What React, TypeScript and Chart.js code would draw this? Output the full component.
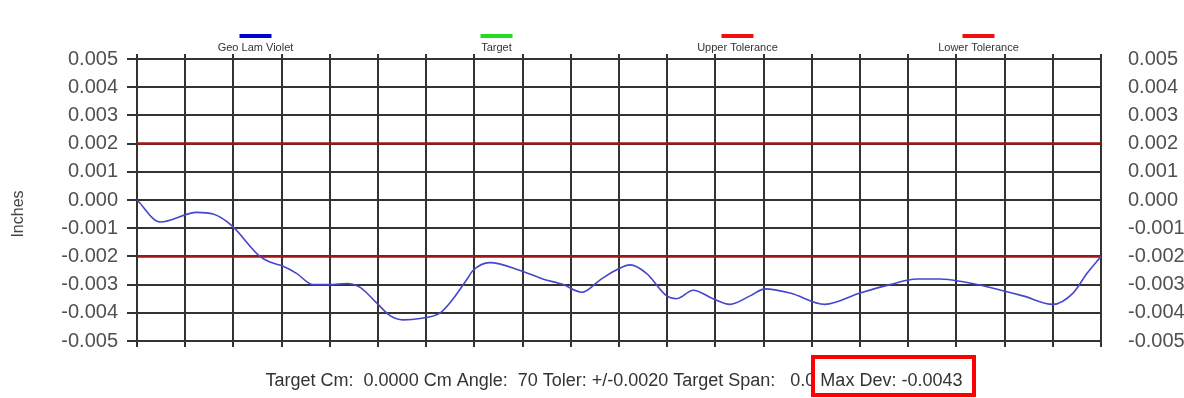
import React, { useEffect, useRef } from "react";
import { Chart, registerables } from "chart.js";

Chart.register(...registerables);

// Position along the 20-division grid, and measured deviation (inches)
const positions = [0, 0.48, 1.24, 1.58, 1.96, 2.55, 2.76, 3.03, 3.31, 3.65, 4.0, 4.35, 4.63, 4.97, 5.25, 5.52, 5.87, 6.29, 6.56, 6.85, 6.97, 7.32, 7.95, 8.42, 8.84, 9.23, 9.61, 9.98, 10.23, 10.57, 10.99, 11.2, 11.54, 11.95, 12.3, 12.72, 13.03, 13.55, 14.27, 15.0, 15.62, 16.18, 16.66, 17.14, 17.7, 18.38, 19.0, 19.42, 19.71, 20];
const geoLamViolet = [0.0, -0.00078, -0.00044, -0.0005, -0.0009, -0.002, -0.0022, -0.00235, -0.0026, -0.003, -0.003, -0.00296, -0.0031, -0.00365, -0.0041, -0.00425, -0.0042, -0.004, -0.0035, -0.0028, -0.0025, -0.00222, -0.0025, -0.0028, -0.003, -0.00327, -0.00283, -0.00245, -0.0023, -0.0026, -0.0034, -0.0035, -0.0032, -0.0035, -0.0037, -0.0034, -0.00315, -0.0033, -0.0037, -0.0033, -0.003, -0.0028, -0.0028, -0.0029, -0.0031, -0.0034, -0.0037, -0.0033, -0.0026, -0.002];
const tolerancePositions = [0, 20];
const upperTolerance = [0.002, 0.002];
const lowerTolerance = [-0.002, -0.002];
const legendLabels = ["Geo Lam Violet", "Target", "Upper Tolerance", "Lower Tolerance"];
const legendColors = ["#0000cc", "#22dd22", "#ee1111", "#ee1111"];
const yMin = -0.005;
const yMax = 0.005;
const yStep = 0.001;
const axisTitle = "Inches";
const footerText = "Target Cm:  0.0000 Cm Angle:  70 Toler: +/-0.0020 Target Span:   0.0 ";
const maxDevText = "Max Dev: -0.0043";

const GRID = "#333333";
const FONT = "'Liberation Sans', Arial, sans-serif";

const overlayPlugin = {
  id: "overlay",
  afterDraw(chart: any) {
    const ctx = chart.ctx as CanvasRenderingContext2D;
    const area = chart.chartArea;
    ctx.save();
    // legend
    const w = (area.right - area.left) / legendLabels.length;
    legendLabels.forEach((label, i) => {
      const cx = area.left + w * (i + 0.5) - 2;
      ctx.fillStyle = legendColors[i];
      ctx.fillRect(cx - 16, 34, 32, 4);
      ctx.fillStyle = "#333";
      ctx.font = `11px ${FONT}`;
      ctx.textAlign = "center";
      ctx.textBaseline = "middle";
      ctx.fillText(label, cx, 48);
    });
    // axis title
    ctx.save();
    ctx.translate(19, 214);
    ctx.rotate(-Math.PI / 2);
    ctx.font = `16px ${FONT}`;
    ctx.fillStyle = "#444";
    ctx.textAlign = "center";
    ctx.textBaseline = "middle";
    ctx.fillText(axisTitle, 0, 0);
    ctx.restore();
    // footer
    ctx.font = `18px ${FONT}`;
    ctx.fillStyle = "#333";
    ctx.textAlign = "left";
    ctx.textBaseline = "middle";
    const full = footerText + maxDevText;
    const fw = ctx.measureText(full).width;
    const startX = 614 - fw / 2;
    ctx.fillText(full, startX, 381);
    // highlight box
    ctx.strokeStyle = "#ff0000";
    ctx.lineWidth = 4;
    ctx.strokeRect(813, 357, 161, 38);
    ctx.restore();
  },
};

export default function App() {
  const ref = useRef<HTMLCanvasElement>(null);
  useEffect(() => {
    if (!ref.current) return;
    const tolColor = "#a01818";
    const chart = new Chart(ref.current, {
      type: "line",
      data: {
        datasets: [
          {
            label: legendLabels[0],
            data: positions.map((x, i) => ({ x, y: geoLamViolet[i] })),
            borderColor: "#4646cc",
            borderWidth: 1.6,
            pointRadius: 0,
            cubicInterpolationMode: "monotone",
            fill: false,
          },
          {
            label: legendLabels[2],
            data: tolerancePositions.map((x, i) => ({ x, y: upperTolerance[i] })),
            borderColor: tolColor,
            borderWidth: 2.5,
            pointRadius: 0,
            fill: false,
          },
          {
            label: legendLabels[3],
            data: tolerancePositions.map((x, i) => ({ x, y: lowerTolerance[i] })),
            borderColor: tolColor,
            borderWidth: 2.5,
            pointRadius: 0,
            fill: false,
          },
        ],
      },
      options: {
        animation: false,
        responsive: false,
        devicePixelRatio: 1,
        layout: { padding: 0 },
        plugins: { legend: { display: false }, tooltip: { enabled: false }, title: { display: false } },
        scales: {
          x: {
            type: "linear",
            position: "bottom",
            min: 0,
            max: 20,
            ticks: { stepSize: 1, display: false },
            grid: { color: GRID, lineWidth: 2, tickLength: 6, drawTicks: true },
            border: { display: true, color: GRID, width: 2 },
            afterFit: (s: any) => { s.height = 57; },
          },
          xTop: {
            type: "linear",
            position: "top",
            min: 0,
            max: 20,
            ticks: { stepSize: 1, display: false },
            grid: { color: GRID, lineWidth: 2, tickLength: 5, drawOnChartArea: false },
            border: { display: false },
            afterFit: (s: any) => { s.height = 59; },
          },
          y: {
            type: "linear",
            position: "left",
            min: yMin,
            max: yMax,
            ticks: {
              stepSize: yStep,
              padding: 9,
              color: "#505050",
              font: { size: 20, family: FONT },
              callback: (v: any) => Number(v).toFixed(3),
            },
            grid: { color: GRID, lineWidth: 2, tickLength: 10 },
            border: { display: true, color: GRID, width: 2 },
            afterFit: (s: any) => { s.width = 137; },
          },
          y2: {
            type: "linear",
            position: "right",
            min: yMin,
            max: yMax,
            ticks: {
              stepSize: yStep,
              padding: 27,
              color: "#505050",
              font: { size: 20, family: FONT },
              callback: (v: any) => Number(v).toFixed(3),
            },
            grid: { drawOnChartArea: false, drawTicks: false },
            border: { display: true, color: GRID, width: 2 },
            afterFit: (s: any) => { s.width = 83; },
          },
        },
      } as any,
      plugins: [overlayPlugin],
    });
    return () => chart.destroy();
  }, []);
  return (
    <div style={{ position: "fixed", left: 0, top: 0, width: 1184, height: 398, background: "#fff" }}>
      <canvas ref={ref} width={1184} height={398} style={{ display: "block" }} />
    </div>
  );
}
